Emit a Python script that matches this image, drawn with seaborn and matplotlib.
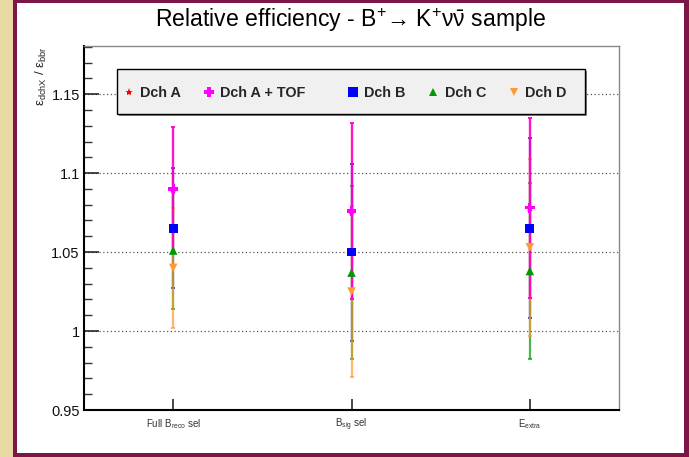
import numpy as np
import pandas as pd
import matplotlib
matplotlib.use("Agg")
import matplotlib.pyplot as plt
from matplotlib.patches import Rectangle
from matplotlib.lines import Line2D
from matplotlib.ticker import MultipleLocator
import seaborn as sns

# ---------------- data ----------------
categories = ["Full B$_{\\mathrm{reco}}$ sel", "B$_{\\mathrm{sig}}$ sel", "E$_{\\mathrm{extra}}$"]
series = ["Dch A", "Dch A + TOF", "Dch B", "Dch C", "Dch D"]
dchA_val = [1.090, 1.076, 1.078]
dchA_err = [0.039, 0.056, 0.057]
dchATOF_val = [1.090, 1.076, 1.078]
dchATOF_err = [0.039, 0.056, 0.057]
dchB_val = [1.065, 1.050, 1.065]
dchB_err = [0.038, 0.056, 0.057]
dchC_val = [1.051, 1.037, 1.038]
dchC_err = [0.037, 0.055, 0.056]
dchD_val = [1.040, 1.025, 1.053]
dchD_err = [0.038, 0.054, 0.056]

values = [dchA_val, dchATOF_val, dchB_val, dchC_val, dchD_val]
errors = [dchA_err, dchATOF_err, dchB_err, dchC_err, dchD_err]
colors = {"Dch A": "#ff0000", "Dch A + TOF": "#ff00ff", "Dch B": "#0000ff",
          "Dch C": "#009900", "Dch D": "#ff9933"}
markers = {"Dch A": "*", "Dch A + TOF": "P", "Dch B": "s", "Dch C": "^", "Dch D": "v"}
msizes = {"Dch A": 40, "Dch A + TOF": 48, "Dch B": 40, "Dch C": 38, "Dch D": 38}

rows = []
for s, v, e in zip(series, values, errors):
    for i, (vv, ee) in enumerate(zip(v, e)):
        rows.append({"pos": i, "series": s, "value": vv, "err": ee})
df = pd.DataFrame(rows)

# ---------------- style ----------------
sns.set_theme(style="ticks")
plt.rcParams["font.family"] = ["Liberation Sans", "DejaVu Sans"]
plt.rcParams["mathtext.fontset"] = "custom"
plt.rcParams["mathtext.rm"] = "Liberation Sans"
plt.rcParams["mathtext.it"] = "Liberation Sans:italic"
plt.rcParams["mathtext.bf"] = "Liberation Sans:bold"

W, H = 689, 457
fig = plt.figure(figsize=(W / 100, H / 100), dpi=100)
fig.patch.set_facecolor("#7d1547")

def fr(x0, y0, x1, y1, **kw):
    # rectangle in pixel coords (top-left origin)
    fig.patches.append(Rectangle((x0 / W, 1 - y1 / H), (x1 - x0) / W, (y1 - y0) / H,
                                 transform=fig.transFigure, figure=fig, **kw))

fr(0, 0, 13, H, facecolor="#e8d8a4", edgecolor="none", zorder=-5)
fr(17, 3, 684, 453, facecolor="white", edgecolor="none", zorder=-5)

ax_l, ax_r, ax_t, ax_b = 84, 619, 46, 410
ax = fig.add_axes([ax_l / W, 1 - ax_b / H, (ax_r - ax_l) / W, (ax_b - ax_t) / H])
ax.set_zorder(2)
ax.set_facecolor("white")

# error bars
draw_order = ["Dch B", "Dch C", "Dch D", "Dch A", "Dch A + TOF"]
for s in draw_order:
    sub = df[df["series"] == s]
    ax.errorbar(sub["pos"], sub["value"], yerr=sub["err"], fmt="none",
                ecolor=colors[s], elinewidth=1.6, capsize=1.6, capthick=1.4,
                alpha=0.7, zorder=2)

# markers via seaborn
sns.scatterplot(data=df, x="pos", y="value", hue="series", style="series",
                palette=colors, markers=markers, size="series", sizes=msizes,
                linewidth=0, ax=ax, legend=False, zorder=3)

ax.set_xlim(-0.5, len(categories) - 0.5)
ax.set_ylim(0.95, 1.1805)
ax.set_xticks(np.arange(len(categories)))
ax.set_xticklabels(categories, fontsize=7, color="#333333")
ax.yaxis.set_major_locator(MultipleLocator(0.05))
ax.yaxis.set_minor_locator(MultipleLocator(0.01))
ax.set_yticks([0.95, 1.0, 1.05, 1.1, 1.15])
ax.set_yticklabels(["0.95", "1", "1.05", "1.1", "1.15"], fontsize=10.5, color="#111111")
ax.tick_params(axis="y", which="major", direction="in", length=11, width=1.2, pad=3)
ax.tick_params(axis="y", which="minor", direction="in", length=6, width=1.0, color="#333333")
ax.tick_params(axis="x", which="major", direction="in", length=8, width=1.2, pad=5)
ax.grid(axis="y", which="major", linestyle=(0, (1, 2)), color="#555555", linewidth=0.9)
ax.set_axisbelow(True)
ax.set_xlabel("")
for side in ["left", "bottom"]:
    ax.spines[side].set_color("black")
    ax.spines[side].set_linewidth(1.5)
for side in ["top", "right"]:
    ax.spines[side].set_color("#888888")
    ax.spines[side].set_linewidth(1.0)

ax.set_ylabel("ε$_{\\mathrm{dchX}}$ / ε$_{\\mathrm{bbr}}$", fontsize=9.5, loc="top")
ax.yaxis.set_label_coords(-0.066, 1.0)

# legend box
def axr(x0, y0, x1, y1, **kw):
    ax.add_patch(Rectangle(((x0 - ax_l) / (ax_r - ax_l), (ax_b - y1) / (ax_b - ax_t)),
                           (x1 - x0) / (ax_r - ax_l), (y1 - y0) / (ax_b - ax_t),
                           transform=ax.transAxes, clip_on=False, **kw))

axr(119, 71, 587, 116, facecolor="#888888", edgecolor="none", zorder=5)
axr(117, 69, 585, 114, facecolor="#f0f0f0", edgecolor="black", linewidth=1.0, zorder=6)

def handle(s):
    ms = {"Dch A": 6, "Dch A + TOF": 7, "Dch B": 6.5, "Dch C": 6, "Dch D": 6}[s]
    return Line2D([], [], linestyle="none", marker=markers[s], color=colors[s],
                  markersize=ms, markeredgewidth=0)

leg_kw = dict(ncol=3, frameon=False, borderpad=0, borderaxespad=0,
              handlelength=0.8, handletextpad=0.4, columnspacing=1.5,
              loc="center left", prop={"weight": "bold", "size": 10.4})
yc = (ax_b - 93) / (ax_b - ax_t)
l1 = ax.legend([handle(s) for s in series[:2]], series[:2],
               bbox_to_anchor=((123 - ax_l) / (ax_r - ax_l), yc), **leg_kw)
l1.set_zorder(7)
ax.add_artist(l1)
l2 = ax.legend([handle(s) for s in series[2:]], series[2:],
               bbox_to_anchor=((347 - ax_l) / (ax_r - ax_l), yc), **leg_kw)
l2.set_zorder(7)

fig.text(0.508, 1 - 20 / H, "Relative efficiency - B$^{+}$→ K$^{+}$ν$\\bar{\\mathrm{ν}}$ sample",
         ha="center", va="center", fontsize=16.6, color="black")

fig.savefig("out.png", dpi=100, facecolor=fig.get_facecolor())
